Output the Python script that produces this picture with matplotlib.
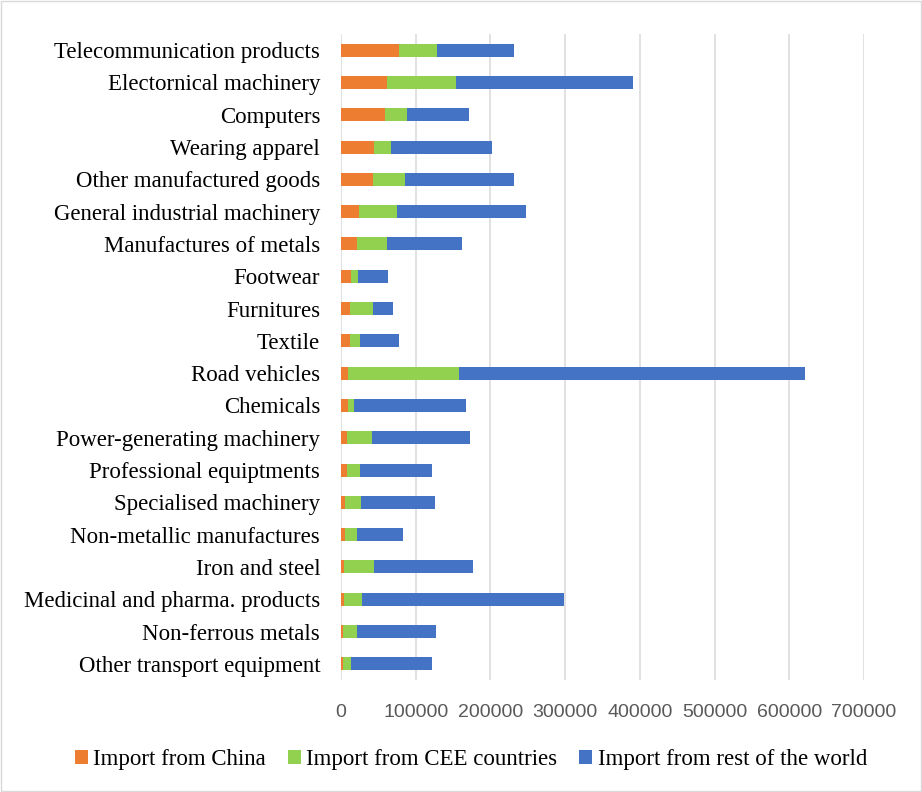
import matplotlib
matplotlib.use("Agg")
import matplotlib.pyplot as plt
import numpy as np
from matplotlib.patches import Rectangle

# Categories listed top to bottom
categories = [
    "Telecommunication products",
    "Electornical machinery",
    "Computers",
    "Wearing apparel",
    "Other manufactured goods",
    "General industrial machinery",
    "Manufactures of metals",
    "Footwear",
    "Furnitures",
    "Textile",
    "Road vehicles",
    "Chemicals",
    "Power-generating machinery",
    "Professional equiptments",
    "Specialised machinery",
    "Non-metallic manufactures",
    "Iron and steel",
    "Medicinal and pharma. products",
    "Non-ferrous metals",
    "Other transport equipment",
]

import_china = [78000, 62000, 59000, 44500, 43000, 23500, 22000, 14000, 12500, 12000,
                10000, 9000, 7500, 8000, 6000, 6000, 4500, 4000, 3000, 2500]
import_cee = [51000, 92000, 30000, 22000, 43000, 51000, 40000, 9000, 30500, 14000,
              148000, 8000, 34000, 17000, 21000, 15500, 39000, 23500, 18000, 11500]
import_row = [102000, 237000, 82000, 136000, 145000, 173000, 100000, 40000, 27000, 51000,
              463000, 150000, 131000, 96500, 99000, 61000, 133500, 271000, 106000, 108000]

series_labels = ["Import from China", "Import from CEE countries", "Import from rest of the world"]
series_colors = ["#ED7D31", "#92D050", "#4472C4"]
x_ticks = [0, 100000, 200000, 300000, 400000, 500000, 600000, 700000]

fig = plt.figure(figsize=(9.22, 7.92), dpi=100)
ax = fig.add_axes([341 / 922, 1 - 680 / 792, (864 - 341) / 922, (680 - 34) / 792])

y = np.arange(len(categories))[::-1]
left = np.zeros(len(categories))
handles = []
for vals, lab, col in zip([import_china, import_cee, import_row], series_labels, series_colors):
    vals = np.array(vals, dtype=float)
    h = ax.barh(y, vals, left=left, height=0.4, color=col, label=lab, zorder=3)
    handles.append(h)
    left += vals

ax.set_xlim(0, 700000)
ax.set_ylim(-0.5, len(categories) - 0.5)
ax.set_xticks(x_ticks)
ax.set_xticklabels([str(v) for v in x_ticks], fontsize=14, color="#595959",
                   family="Liberation Sans")
ax.set_yticks(y)
ax.set_yticklabels(categories, fontsize=16.5, family="Liberation Serif", color="black")
ax.tick_params(axis="both", length=0)
ax.tick_params(axis="x", pad=17)
ax.tick_params(axis="y", pad=15)
ax.grid(axis="x", color="#d9d9d9", linewidth=1.1, zorder=0)
for s in ax.spines.values():
    s.set_visible(False)

fig.legend(handles=handles, labels=series_labels, loc="center", ncol=3,
           bbox_to_anchor=(471 / 922, 1 - 760 / 792), frameon=False,
           prop={"family": "Liberation Serif", "size": 16.5},
           handlelength=0.55, handleheight=0.55, handletextpad=0.25, columnspacing=0.95)

# thin chart border
fig.patches.append(Rectangle((0.001, 0.001), 0.998, 0.998, transform=fig.transFigure,
                             fill=False, edgecolor="#d9d9d9", linewidth=1.0))

fig.savefig("out.png", dpi=100)
